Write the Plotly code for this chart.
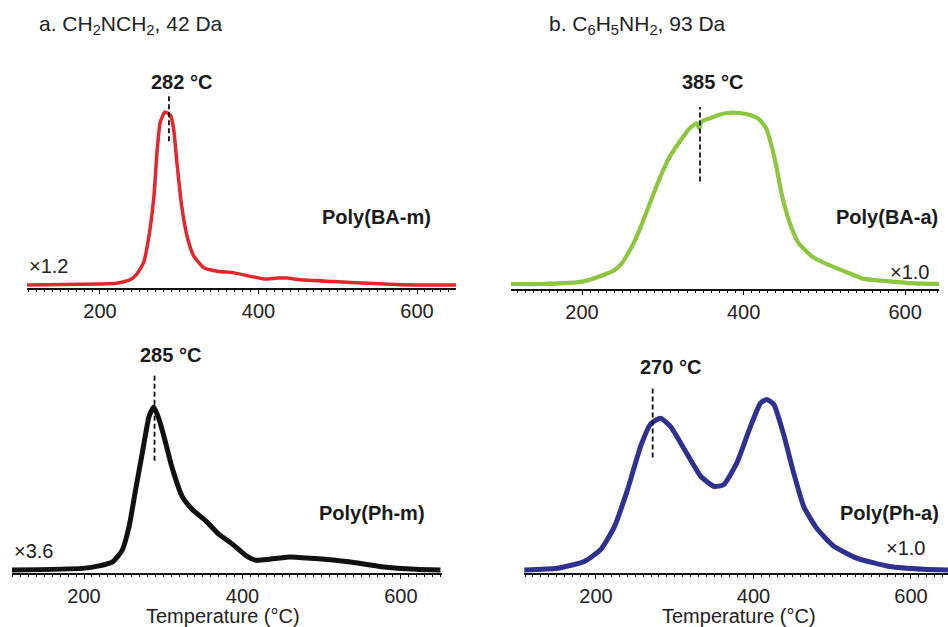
import plotly.graph_objects as go

W, H = 948, 627

# ---------------- data (normalized intensity vs temperature) ----------------
ba_m_T = [108, 200, 221, 238, 246, 255, 261, 268, 272, 276, 282, 289, 293, 297, 303, 310, 318,
          331, 348, 369, 390, 407, 424, 436, 453, 495, 538, 580, 650]
ba_m_I = [0.0, 0.006, 0.01, 0.03, 0.06, 0.13, 0.26, 0.51, 0.77, 0.94, 1.0, 0.98, 0.90, 0.71, 0.46,
          0.28, 0.17, 0.10, 0.08, 0.07, 0.05, 0.035, 0.04, 0.04, 0.03, 0.02, 0.01, 0.002, 0.0]

ba_a_T = [112, 150, 200, 225, 240, 249, 257, 266, 274, 283, 292, 300, 308, 316, 325, 333, 342, 345,
          348, 359, 370, 380, 395, 410, 420, 428, 434, 440, 447, 453, 460, 468, 485, 506, 527, 549,
          570, 612, 650]
ba_a_I = [0.0, 0.0, 0.014, 0.05, 0.08, 0.12, 0.18, 0.26, 0.35, 0.46, 0.57, 0.66, 0.74, 0.80, 0.86,
          0.91, 0.94, 0.91, 0.95, 0.97, 0.99, 1.0, 1.0, 0.985, 0.96, 0.91, 0.82, 0.70, 0.53, 0.42,
          0.32, 0.24, 0.16, 0.11, 0.07, 0.03, 0.02, 0.004, 0.0]

ph_m_T = [107, 198, 219, 236, 248, 257, 265, 274, 282, 288, 295, 303, 311, 324, 337, 354, 370, 387,
          404, 417, 433, 459, 492, 534, 576, 619, 650]
ph_m_I = [0.0, 0.01, 0.025, 0.05, 0.12, 0.27, 0.49, 0.73, 0.94, 1.0, 0.92, 0.78, 0.63, 0.45, 0.37,
          0.30, 0.22, 0.16, 0.09, 0.06, 0.065, 0.08, 0.07, 0.05, 0.02, 0.004, 0.0]

ph_a_T = [109, 151, 185, 206, 223, 240, 257, 270, 282, 295, 312, 333, 350, 362, 379, 396, 409, 417,
          426, 438, 451, 464, 481, 502, 531, 573, 616, 650]
ph_a_I = [0.0, 0.01, 0.05, 0.12, 0.25, 0.47, 0.73, 0.86, 0.89, 0.84, 0.71, 0.55, 0.49, 0.50, 0.63,
          0.84, 0.98, 1.0, 0.97, 0.80, 0.57, 0.37, 0.24, 0.14, 0.07, 0.02, 0.004, 0.0]

# peak marker (dashed line) positions and labels
marker_T = [287, 346, 289, 272]
marker_lo = [0.83, 0.60, 0.67, 0.66]
marker_hi = [1.11, 1.035, 1.21, 1.08]
peak_labels = ["282 °C", "385 °C", "285 °C", "270 °C"]
sample_labels = ["Poly(BA-m)", "Poly(BA-a)", "Poly(Ph-m)", "Poly(Ph-a)"]
scale_labels = ["×1.2", "×1.0", "×3.6", "×1.0"]
panel_titles = ["a. CH<sub>2</sub>NCH<sub>2</sub>, 42 Da",
                "b. C<sub>6</sub>H<sub>5</sub>NH<sub>2</sub>, 93 Da"]
tick_labels = [200, 400, 600]
mid_ticks = [150, 250, 300, 350, 450, 500, 550, 650]
x_title = "Temperature (°C)"

series = [(ba_m_T, ba_m_I), (ba_a_T, ba_a_I), (ph_m_T, ph_m_I), (ph_a_T, ph_a_I)]
colors = ["#e8252a", "#8dc63f", "#111111", "#2e3192"]
widths = [3.5, 4.2, 5.0, 5.0]

FONT = "Liberation Sans, Arial, Helvetica, sans-serif"


def px(x, y):
    return x / W, 1 - y / H


# axis geometry (pixels): left, right, axis-line y, domain top
geom = [
    dict(x0=27, x1=456, ya=288, yt=60, xr=[107.9, 649.2], yr=[-0.0173, 1.30]),
    dict(x0=511, x1=939, ya=289, yt=60, xr=[112, 642], yr=[-0.0292, 1.31]),
    dict(x0=12, x1=442, ya=573, yt=345, xr=[109, 652], yr=[-0.0184, 1.38]),
    dict(x0=524, x1=948, ya=573, yt=345, xr=[108.6, 647], yr=[-0.0176, 1.32]),
]

fig = go.Figure()
layout = dict(width=W, height=H, margin=dict(l=0, r=0, t=0, b=0),
              paper_bgcolor="white", plot_bgcolor="white", showlegend=False,
              font=dict(family=FONT, size=20, color="#222222"))

for i, g in enumerate(geom):
    n = "" if i == 0 else str(i + 1)
    xa, ya = "x" + n, "y" + n
    T, I = series[i]
    fig.add_trace(go.Scatter(x=T, y=I, mode="lines", xaxis=xa, yaxis=ya,
                             line=dict(color=colors[i], width=widths[i], shape="spline", smoothing=0.5),
                             hoverinfo="skip"))
    fig.add_trace(go.Scatter(x=[marker_T[i], marker_T[i]], y=[marker_lo[i], marker_hi[i]],
                             mode="lines", xaxis=xa, yaxis=ya,
                             line=dict(color="#111111", width=1.8, dash="5px,3px"),
                             hoverinfo="skip"))
    dx0, _ = px(g["x0"], 0)
    dx1, _ = px(g["x1"], 0)
    _, dy0 = px(0, g["ya"])
    _, dy1 = px(0, g["yt"])
    dom = [dx0, min(dx1, 1)]
    layout["xaxis" + n] = dict(domain=dom, range=g["xr"], anchor=ya,
                               showgrid=False, zeroline=False, showline=True,
                               linecolor="#111111", linewidth=1.6,
                               tickmode="array", tickvals=tick_labels,
                               ticks="outside", ticklen=4, tickwidth=1.3, tickcolor="#111111",
                               minor=dict(tickmode="linear", tick0=0, dtick=10, ticks="outside",
                                          ticklen=2, tickwidth=1, tickcolor="#111111"),
                               tickfont=dict(size=20, color="#222222"), fixedrange=True)
    layout["yaxis" + n] = dict(domain=[dy0, dy1], range=g["yr"], anchor=xa, visible=False,
                               fixedrange=True)
    # extra overlay axis carrying the unlabeled 50-step ticks
    k = str(i + 5)
    layout["xaxis" + k] = dict(domain=dom, range=g["xr"], anchor=ya, overlaying=xa,
                               showgrid=False, zeroline=False, showline=False,
                               showticklabels=False, tickmode="array", tickvals=mid_ticks,
                               ticks="outside", ticklen=4, tickwidth=1.3, tickcolor="#111111",
                               fixedrange=True)

fig.update_layout(**layout)

ann = []


def add(text, x, y, xanchor="center", size=20, bold=False, color="#222222"):
    ax, ay = px(x, y)
    ann.append(dict(text=("<b>%s</b>" % text) if bold else text, x=ax, y=ay, xref="paper",
                    yref="paper", xanchor=xanchor, yanchor="middle", showarrow=False,
                    font=dict(size=size, color=color, family=FONT)))


add(panel_titles[0], 37, 25, "left", size=21)
add(panel_titles[1], 547, 25, "left", size=21)

peak_pos = [(181, 82), (712, 82), (170, 355), (670, 367)]
for lab, (x, y) in zip(peak_labels, peak_pos):
    add(lab, x, y, "center", bold=True, color="#1a1a1a")

sample_pos = [(433, 217), (940, 217), (427, 513), (941, 513)]
for lab, (x, y) in zip(sample_labels, sample_pos):
    add(lab, x, y, "right", bold=True, color="#1a1a1a")

scale_pos = [(27, 266, "left"), (931, 272, "right"), (12, 551, "left"), (927, 548, "right")]
for lab, (x, y, a) in zip(scale_labels, scale_pos):
    add(lab, x, y, a)

add(x_title, 223, 616, "center")
add(x_title, 739, 616, "center")

fig.update_layout(annotations=ann)
fig.write_html("out.html")
